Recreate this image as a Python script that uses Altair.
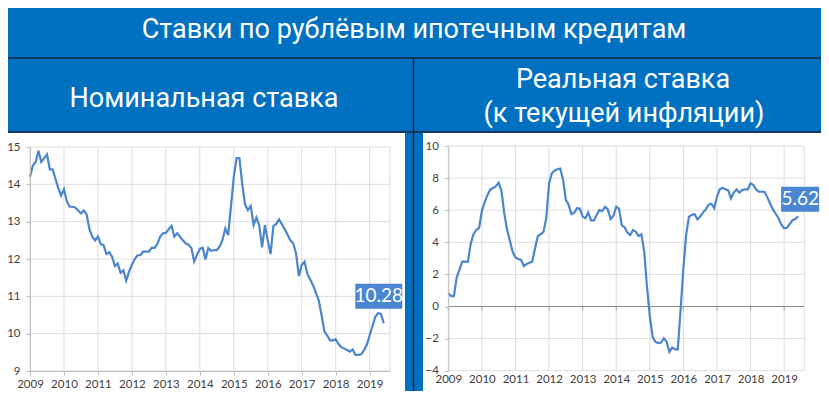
import altair as alt
import pandas as pd

# ---------------- data ----------------
years = [2009, 2010, 2011, 2012, 2013, 2014, 2015, 2016, 2017, 2018, 2019]

# monthly, Jan 2009 .. Jun 2019
nominal = [
    14.2, 14.5, 14.6, 14.9, 14.6, 14.7, 14.8, 14.4, 14.4, 14.15, 13.9, 13.7,
    13.87, 13.55, 13.4, 13.4, 13.38, 13.3, 13.22, 13.3, 13.2, 12.8, 12.6, 12.5,
    12.6, 12.4, 12.37, 12.13, 12.18, 12.06, 11.81, 11.88, 11.63, 11.7, 11.42, 11.66,
    11.84, 12.0, 12.1, 12.1, 12.2, 12.2, 12.2, 12.3, 12.3, 12.4, 12.6, 12.69,
    12.7, 12.8, 12.89, 12.6, 12.69, 12.6, 12.5, 12.42, 12.38, 12.3, 11.93, 12.11,
    12.27, 12.3, 11.99, 12.29, 12.22, 12.24, 12.24, 12.33, 12.51, 12.82, 12.64, 13.4,
    14.2, 14.7, 14.7, 14.0, 13.45, 13.31, 13.42, 12.91, 13.11, 12.9, 12.31, 12.91,
    12.5, 12.13, 12.88, 12.94, 13.06, 12.93, 12.8, 12.65, 12.5, 12.42, 12.15, 11.54,
    11.84, 11.93, 11.6, 11.45, 11.3, 11.1, 10.9, 10.5, 10.07, 9.95, 9.82, 9.82,
    9.85, 9.72, 9.64, 9.6, 9.56, 9.52, 9.58, 9.43, 9.43, 9.45, 9.55, 9.7,
    9.95, 10.2, 10.45, 10.55, 10.53, 10.28,
]

real = [
    0.82, 0.65, 0.65, 1.8, 2.3, 2.79, 2.79, 2.78, 3.9, 4.5, 4.77, 4.9,
    5.95, 6.5, 6.95, 7.28, 7.38, 7.5, 7.71, 7.2, 5.8, 4.8, 4.1, 3.4,
    3.05, 2.96, 2.9, 2.52, 2.65, 2.72, 2.8, 3.63, 4.39, 4.5, 4.65, 5.5,
    7.67, 8.3, 8.48, 8.55, 8.59, 7.9, 6.64, 6.35, 5.75, 5.85, 6.12, 6.1,
    5.6, 5.5, 5.85, 5.38, 5.35, 5.7, 6.01, 5.95, 6.22, 6.05, 5.45, 5.64,
    6.22, 6.1, 5.05, 4.93, 4.6, 4.45, 4.77, 4.66, 4.39, 4.5, 3.42, 1.2,
    -0.6, -1.9, -2.2, -2.28, -2.25, -1.98, -2.19, -2.82, -2.55, -2.67, -2.67, -0.2,
    2.4, 4.5, 5.6, 5.7, 5.76, 5.43, 5.6, 5.85, 6.05, 6.35, 6.4, 6.12,
    6.84, 7.3, 7.4, 7.3, 7.23, 6.74, 7.1, 7.3, 7.09, 7.26, 7.3, 7.3,
    7.67, 7.57, 7.28, 7.15, 7.15, 7.15, 6.8, 6.4, 6.05, 5.78, 5.5, 5.1,
    4.87, 4.9, 5.14, 5.38, 5.45, 5.62,
]

nominal_ticks = [9, 10, 11, 12, 13, 14, 15]
real_ticks = [-4, -2, 0, 2, 4, 6, 8, 10]

main_title = "Ставки по рублёвым ипотечным кредитам"
left_title = "Номинальная ставка"
right_title = ["Реальная ставка", "(к текущей инфляции)"]
nominal_label = "10.28"
real_label = "5.62"

# ---------------- styling ----------------
BG = "#0070C0"
LINE = "#4A86CD"
BOX = "#4A86D2"
GRID = "#DDDDDD"
AXIS = "#BFBFBF"
LBL = "#404040"
DARK = "#14233a"
TFONT = "Roboto"
AFONT = "Lato"

W, H = 813, 383

months = [2009 + i / 12 for i in range(len(nominal))]
df_nom = pd.DataFrame({"t": months, "v": nominal})
df_real = pd.DataFrame({"t": months, "v": real})
df_years = pd.DataFrame({"t": years})
one = pd.DataFrame({"a": [0]})

# panel plot areas (pixel boxes inside the chart)
PANELS = {
    "nom": dict(x0=22, x1=382, y0=139, y1=363, dom=[9, 15], ticks=nominal_ticks),
    "real": dict(x0=440.3, x1=796.3, y0=138, y1=362.7, dom=[-4, 10], ticks=real_ticks),
}


def X(p, axis=None, field="t:Q"):
    P = PANELS[p]
    return alt.X(field, scale=alt.Scale(domain=[2009, 2019.6], range=[P["x0"], P["x1"]],
                                        nice=False, zero=False), axis=axis)


def Y(p, axis=None, field="v:Q"):
    P = PANELS[p]
    return alt.Y(field, scale=alt.Scale(domain=P["dom"], range=[P["y1"], P["y0"]],
                                        nice=False, zero=False), axis=axis)


def xaxis(p, line):
    return alt.Axis(
        orient="bottom", values=years, format="d", title=None, labelFont=AFONT,
        labelFontSize=11.5, labelColor=LBL, domain=line, domainColor=AXIS, ticks=line,
        tickColor=AXIS, tickSize=4, grid=False, labelPadding=3, labelFlush=False,
        offset=PANELS[p]["y1"] - H, zindex=2,
    )


def yaxis(p):
    P = PANELS[p]
    return alt.Axis(
        orient="left", values=P["ticks"], title=None, labelFont=AFONT, labelFontSize=11.5,
        labelColor=LBL, domainColor=AXIS, tickColor=AXIS, tickSize=4,
        grid=False, labelPadding=6, offset=-P["x0"], zindex=2,
    )


def rect(x1, x2, y1, y2, **kw):
    return alt.Chart(one).mark_rect(**kw).encode(
        x=alt.value(x1), x2=alt.value(x2), y=alt.value(y1), y2=alt.value(y2)
    )


def rule(x1, x2, y1, y2, color=DARK, w=1.5):
    return alt.Chart(one).mark_rule(color=color, strokeWidth=w).encode(
        x=alt.value(x1), x2=alt.value(x2), y=alt.value(y1), y2=alt.value(y2)
    )


def txt(s, x, y, size=27):
    return alt.Chart(one).mark_text(
        text=s, font=TFONT, fontSize=size, color="white", align="center", baseline="middle"
    ).encode(x=alt.value(x), y=alt.value(y))


def grids(p):
    P = PANELS[p]
    vg = alt.Chart(df_years).mark_rule(color=GRID, strokeWidth=1).encode(
        x=X(p), y=alt.value(P["y0"]), y2=alt.value(P["y1"])
    )
    hg = alt.Chart(pd.DataFrame({"v": P["ticks"]})).mark_rule(color=GRID, strokeWidth=1).encode(
        y=Y(p), x=alt.value(P["x0"]), x2=alt.value(P["x1"])
    )
    edge = rule(P["x1"], P["x1"], P["y0"], P["y1"], color=GRID, w=1)
    return [vg, hg, edge]


layers = [
    # panels & frame
    rect(0, 397, 125, H, color="white"),
    rect(415, W, 125, H, color="white"),
    rule(0, W, 50, 50),
    rule(0, W, 124, 124),
    rule(405.5, 405.5, 50, H),
    # texts
    txt(main_title, 406, 22),
    txt(left_title, 196, 91),
    txt(right_title[0], 615, 72),
    txt(right_title[1], 616, 106),
]
layers += grids("nom") + grids("real")

# zero line in the real panel
PR = PANELS["real"]
layers.append(
    alt.Chart(pd.DataFrame({"v": [0]})).mark_rule(color="#8C8C8C", strokeWidth=1).encode(
        y=Y("real"), x=alt.value(PR["x0"]), x2=alt.value(PR["x1"])
    )
)
layers.append(
    alt.Chart(df_years.assign(v=0)).mark_tick(
        orient="vertical", size=4, thickness=1, yOffset=2, color="#8C8C8C"
    ).encode(x=X("real"), y=Y("real"))
)

# lines with axes
layers.append(
    alt.Chart(df_nom).mark_line(color=LINE, strokeWidth=2.2).encode(
        x=X("nom", xaxis("nom", True)), y=Y("nom", yaxis("nom"))
    )
)
layers.append(
    alt.Chart(df_real).mark_line(color=LINE, strokeWidth=2.2).encode(
        x=X("real", xaxis("real", False)), y=Y("real", yaxis("real"))
    )
)

# value labels
nom_last = pd.DataFrame({"t": [months[-1]], "v": [nominal[-1]], "lbl": [nominal_label]})
real_last = pd.DataFrame({"t": [months[-1]], "v": [real[-1]], "lbl": [real_label]})
layers.append(
    alt.Chart(nom_last).mark_rect(color=BOX, width=47, height=25, xOffset=-5, yOffset=-27)
    .encode(x=X("nom"), y=Y("nom"))
)
layers.append(
    alt.Chart(nom_last).mark_text(color="white", font=AFONT, fontSize=19, xOffset=-5,
                                  yOffset=-27, baseline="middle")
    .encode(x=X("nom"), y=Y("nom"), text="lbl:N")
)
layers.append(
    alt.Chart(real_last).mark_rect(color=BOX, width=38, height=25, xOffset=2, yOffset=-17)
    .encode(x=X("real"), y=Y("real"))
)
layers.append(
    alt.Chart(real_last).mark_text(color="white", font=AFONT, fontSize=19, xOffset=2,
                                   yOffset=-17, baseline="middle")
    .encode(x=X("real"), y=Y("real"), text="lbl:N")
)

chart = (
    alt.layer(*layers)
    .resolve_scale(x="independent", y="independent")
    .resolve_axis(x="independent", y="independent")
    .properties(width=W, height=H, background=BG, padding=0,
                autosize=alt.AutoSizeParams(type="none"))
    .configure_view(stroke=None)
)

chart.save("out.html", embed_options={"renderer": "svg", "actions": False})
